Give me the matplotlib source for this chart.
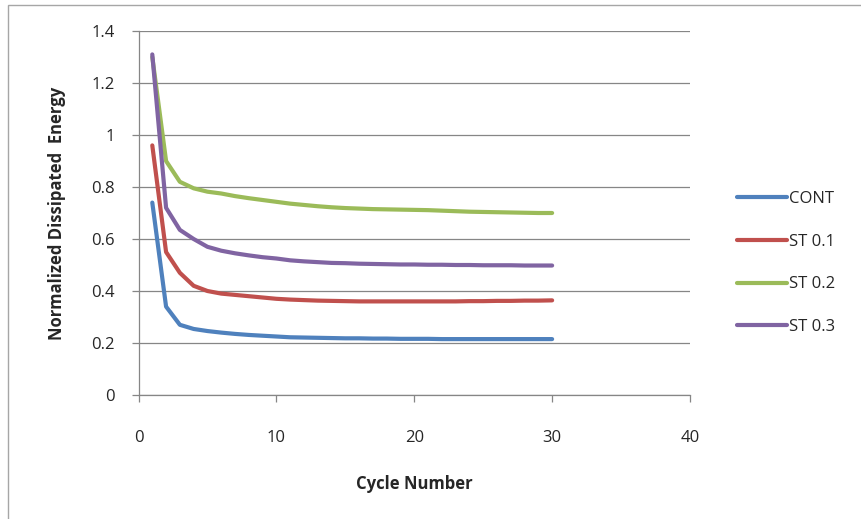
import numpy as np
import matplotlib
matplotlib.use("Agg")
import matplotlib.pyplot as plt
from matplotlib.patches import Rectangle

plt.rcParams['font.family'] = ['Open Sans', 'DejaVu Sans']

# cycle numbers 1..30
cycles = list(range(1, 31))

cont = [0.74, 0.34, 0.27, 0.254, 0.246, 0.240, 0.235, 0.231, 0.228, 0.225,
        0.222, 0.221, 0.220, 0.219, 0.218, 0.218, 0.217, 0.217, 0.216, 0.216,
        0.216, 0.215, 0.215, 0.215, 0.215, 0.215, 0.215, 0.215, 0.215, 0.215]
st01 = [0.96, 0.55, 0.47, 0.42, 0.40, 0.39, 0.385, 0.38, 0.375, 0.37,
        0.367, 0.365, 0.363, 0.362, 0.361, 0.360, 0.360, 0.360, 0.360, 0.360,
        0.360, 0.360, 0.360, 0.361, 0.361, 0.362, 0.362, 0.363, 0.363, 0.364]
st02 = [1.30, 0.90, 0.82, 0.795, 0.782, 0.775, 0.765, 0.757, 0.750, 0.743,
        0.736, 0.731, 0.726, 0.722, 0.719, 0.717, 0.715, 0.714, 0.713, 0.712,
        0.711, 0.709, 0.707, 0.705, 0.704, 0.703, 0.702, 0.701, 0.700, 0.700]
st03 = [1.31, 0.72, 0.635, 0.60, 0.57, 0.555, 0.545, 0.537, 0.530, 0.525,
        0.518, 0.514, 0.511, 0.508, 0.507, 0.505, 0.504, 0.503, 0.502, 0.502,
        0.501, 0.501, 0.500, 0.500, 0.499, 0.499, 0.499, 0.498, 0.498, 0.498]

series = [("CONT", cont, "#4F81BD"),
          ("ST 0.1", st01, "#C0504D"),
          ("ST 0.2", st02, "#9BBB59"),
          ("ST 0.3", st03, "#8064A2")]

W, H = 861, 519
fig = plt.figure(figsize=(W / 100, H / 100), dpi=100)

# chart area border (right/bottom edges fall outside the picture)
fig.patches.append(Rectangle((8 / W, -0.1), 1.2, 1 - 5 / H + 0.1,
                             transform=fig.transFigure, fill=False,
                             edgecolor="#a6a6a6", linewidth=1.0))

ax = fig.add_axes([138.5 / W, 1 - 395 / H, 551.5 / W, 364 / H])

for name, vals, col in series:
    ax.plot(cycles, vals, color=col, linewidth=3.0, label=name,
            solid_capstyle="round", solid_joinstyle="round")

ax.set_xlim(0, 40)
ax.set_ylim(0, 1.4)
ax.set_xticks([0, 10, 20, 30, 40])
ax.set_yticks(np.arange(0, 1.41, 0.2))
ax.set_yticklabels(["0", "0.2", "0.4", "0.6", "0.8", "1", "1.2", "1.4"])

ax.grid(axis="y", color="#868686", linewidth=0.9)
ax.set_axisbelow(True)
for s in ["top", "right"]:
    ax.spines[s].set_visible(False)
for s in ["left", "bottom"]:
    ax.spines[s].set_color("#868686")
    ax.spines[s].set_linewidth(0.9)

ax.tick_params(axis="both", colors="#868686", labelcolor="#262626",
               labelsize=12, length=5, width=0.9)
ax.tick_params(axis="y", pad=12)
ax.tick_params(axis="x", pad=20)

ax.set_xlabel("Cycle Number", fontsize=12, fontweight="bold",
              color="#262626", labelpad=21)
ax.set_ylabel("Normalized Dissipated  Energy", fontsize=12,
              fontweight="bold", color="#262626", labelpad=18)

ax.legend(loc="center left", bbox_to_anchor=(737 / W, 1 - 263 / H),
          bbox_transform=fig.transFigure, frameon=False, fontsize=12,
          handlelength=3.0, handletextpad=0.1, labelspacing=1.6,
          borderpad=0, borderaxespad=0, labelcolor="#262626")

fig.savefig("out.png", dpi=100)
